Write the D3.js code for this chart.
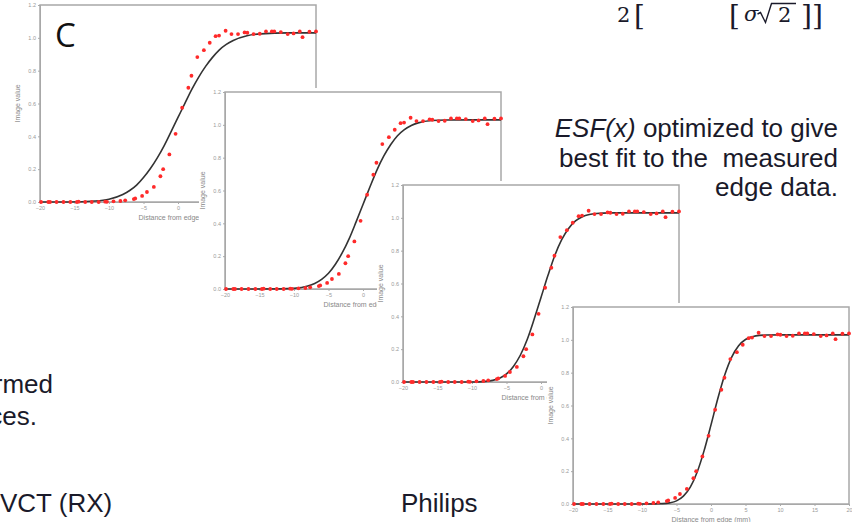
<!DOCTYPE html>
<html>
<head>
<meta charset="utf-8">
<script src="https://cdn.jsdelivr.net/npm/d3@7"></script>
<style>
  body { margin: 0; background: #fff; }
  svg { display: block; }
  text { white-space: pre; }
  .tick text { fill: #999; }
  .tick line, .domain { stroke: #aaa; }
</style>
</head>
<body>
<script>
// Datos de borde medidos (iguales en los cuatro paneles)
const edgeX = [-19.85, -18.8, -18.55, -17.6, -16.6, -15.6, -14.65, -14.4, -13.45, -12.5,
  -11.5, -10.55, -10.3, -9.35, -8.35, -7.65, -6.4, -6.2, -5.2, -4.5,
  -3.5, -2.55, -2.15, -1.25, -0.35, 0.6, 1.5, 1.95, 2.8, 3.75,
  4.6, 5.45, 5.95, 6.9, 7.75, 8.7, 9.65, 10.05, 10.95, 11.85,
  12.75, 13.6, 13.95, 14.9, 15.9, 16.75, 17.65, 18.05, 19.05, 20.0];
const edgeY = [0, 0, 0, 0, 0, 0, 0, 0.002, 0, 0,
  0, 0.002, 0.001, 0.004, 0.006, 0.01, 0.018, 0.022, 0.037, 0.061,
  0.092, 0.157, 0.2, 0.29, 0.415, 0.574, 0.696, 0.769, 0.883, 0.925,
  0.97, 1.01, 1.014, 1.043, 1.023, 1.023, 1.033, 1.031, 1.023, 1.025,
  1.039, 1.039, 1.039, 1.035, 1.023, 1.027, 1.039, 1.004, 1.037, 1.039];

const fitX = [-20, -16, -12, -10, -8, -7, -6, -5, -4, -3, -2, -1, 0, 1, 2, 3, 4, 5, 6, 7, 8, 10, 12, 16, 20];
const fitA = [0, 0, 0.006, 0.017, 0.046, 0.07, 0.103, 0.149, 0.204, 0.269, 0.344, 0.429, 0.515,
  0.601, 0.686, 0.761, 0.826, 0.881, 0.927, 0.96, 0.984, 1.013, 1.024, 1.03, 1.03];
const fitB = [0, 0, 0.001, 0.004, 0.018, 0.034, 0.059, 0.096, 0.151, 0.221, 0.307, 0.409, 0.515,
  0.621, 0.723, 0.809, 0.879, 0.934, 0.971, 0.996, 1.012, 1.026, 1.029, 1.03, 1.03];
const fitC = [0, 0, 0, 0, 0.004, 0.01, 0.023, 0.049, 0.095, 0.163, 0.259, 0.382, 0.515,
  0.648, 0.771, 0.867, 0.935, 0.981, 1.007, 1.02, 1.026, 1.03, 1.03, 1.03, 1.03];
const fitD = [0, 0, 0, 0, 0.001, 0.002, 0.007, 0.019, 0.048, 0.103, 0.195, 0.325, 0.482,
  0.644, 0.787, 0.895, 0.964, 1.002, 1.019, 1.027, 1.029, 1.03, 1.03, 1.03, 1.03];

const xTicks = [-20, -15, -10, -5, 0, 5, 10, 15, 20];
const yTicks = [0, 0.2, 0.4, 0.6, 0.8, 1.0, 1.2];

const W = 276, H = 197;
const panels = [
  { x: 40, y: 5, fit: fitA },
  { x: 225, y: 92, fit: fitB },
  { x: 403, y: 185, fit: fitC },
  { x: 573, y: 307, fit: fitD }
];

const svg = d3.select('body').append('svg')
  .attr('width', 852).attr('height', 522)
  .style('font-family', '"Liberation Sans", Arial, sans-serif');

// Textos de la diapositiva
const txtColor = '#1a1a2a';
const fs = 26;
const right = svg.append('text').attr('x', 838).attr('y', 137)
  .attr('text-anchor', 'end').attr('font-size', fs).attr('fill', txtColor);
right.append('tspan').attr('font-style', 'italic').text('ESF(x)');
right.append('tspan').text(' optimized to give');
svg.append('text').attr('x', 838).attr('y', 167).attr('text-anchor', 'end')
  .attr('font-size', fs).attr('fill', txtColor).text('best fit to the  measured');
svg.append('text').attr('x', 838).attr('y', 196).attr('text-anchor', 'end')
  .attr('font-size', fs).attr('fill', txtColor).text('edge data.');

svg.append('text').attr('x', 53).attr('y', 393).attr('text-anchor', 'end')
  .attr('font-size', fs).attr('fill', txtColor).text('rmed');
svg.append('text').attr('x', 37).attr('y', 425).attr('text-anchor', 'end')
  .attr('font-size', fs).attr('fill', txtColor).text('ces.');
svg.append('text').attr('x', 0).attr('y', 512)
  .attr('font-size', fs).attr('fill', txtColor).text('VCT (RX)');
svg.append('text').attr('x', 401).attr('y', 512)
  .attr('font-size', fs).attr('fill', txtColor).text('Philips');

// Fórmula (parte visible)
const serif = '"DejaVu Serif", "Liberation Serif", serif';
svg.append('text').attr('x', 617).attr('y', 22).attr('font-family', serif)
  .attr('font-size', 21).attr('fill', txtColor).text('2');
svg.append('text').attr('x', 634).attr('y', 25).attr('font-family', serif)
  .attr('font-size', 28).attr('fill', txtColor).text('[');
svg.append('text').attr('x', 729).attr('y', 25).attr('font-family', serif)
  .attr('font-size', 28).attr('fill', txtColor).text('[');
svg.append('text').attr('x', 744).attr('y', 21).attr('font-family', serif)
  .attr('font-size', 21).attr('font-style', 'italic').attr('fill', txtColor).text('σ');
// signo de raíz
svg.append('path')
  .attr('d', 'M757.5,14 L760.5,12.5 L765.5,22.5 L771.5,3.5 L796,3.5')
  .attr('fill', 'none').attr('stroke', txtColor).attr('stroke-width', 1.4);
svg.append('text').attr('x', 778).attr('y', 22).attr('font-family', serif)
  .attr('font-size', 21).attr('fill', txtColor).text('2');
svg.append('text').attr('x', 801).attr('y', 25).attr('font-family', serif)
  .attr('font-size', 28).attr('fill', txtColor).text(']]');

function drawPanel(p, i) {
  const g = svg.append('g').attr('transform', `translate(${p.x},${p.y})`);

  // Fondo blanco que tapa el panel anterior
  g.append('rect').attr('x', -26).attr('y', -4)
    .attr('width', W + 30).attr('height', H + 26).attr('fill', '#fff');

  const x = d3.scaleLinear().domain([-20, 20]).range([0, W]);
  const y = d3.scaleLinear().domain([0, 1.2]).range([H, 0]);

  g.append('g').attr('transform', `translate(0,${H})`)
    .call(d3.axisBottom(x).tickValues(xTicks).tickSize(2).tickPadding(2))
    .call(a => a.selectAll('text').attr('font-size', 5.5));
  g.append('g')
    .call(d3.axisLeft(y).tickValues(yTicks).tickSize(2).tickPadding(2).tickFormat(d3.format('.1f')))
    .call(a => a.selectAll('text').attr('font-size', 5.5));

  g.append('rect').attr('width', W).attr('height', H)
    .attr('fill', 'none').attr('stroke', '#a8a8a8').attr('stroke-width', 1.5);

  g.append('text').attr('x', W / 2).attr('y', H + 18).attr('text-anchor', 'middle')
    .attr('font-size', 7).attr('fill', '#888').text('Distance from edge (mm)');
  g.append('text').attr('transform', `translate(-20,${H / 2}) rotate(-90)`)
    .attr('text-anchor', 'middle').attr('font-size', 7).attr('fill', '#888').text('Image value');

  const line = d3.line()
    .x((d, j) => x(fitX[j]))
    .y(d => y(d))
    .curve(d3.curveMonotoneX);
  g.append('path').datum(p.fit)
    .attr('fill', 'none').attr('stroke', '#333').attr('stroke-width', 1.6)
    .attr('d', line);

  g.selectAll('circle.pt').data(edgeX).join('circle')
    .attr('class', 'pt')
    .attr('cx', d => x(d))
    .attr('cy', (d, j) => y(edgeY[j]))
    .attr('r', 1.9)
    .attr('fill', '#ff2a2a');

  if (i === 0) {
    svg.append('text').attr('x', 55).attr('y', 47)
      .attr('font-family', '"Open Sans", sans-serif').attr('font-size', 33)
      .attr('fill', '#111').text('C');
  }
}

panels.forEach(drawPanel);
</script>
</body>
</html>
